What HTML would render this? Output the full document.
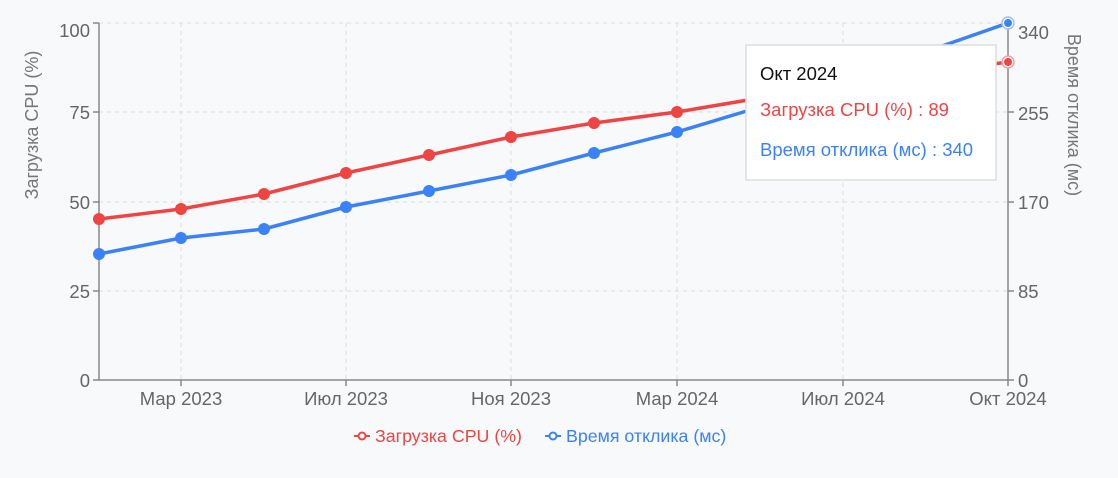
<!DOCTYPE html>
<html><head><meta charset="utf-8"><style>
body{margin:0;background:#f8f9fb;}
svg{display:block;font-family:"Liberation Sans","DejaVu Sans",sans-serif;}
</style></head><body>
<svg width="1118" height="478" viewBox="0 0 1118 478">
<rect width="1118" height="478" fill="#f8f9fb"/>
<g stroke="#dcdcdc" stroke-dasharray="4,4" stroke-width="1">
<line x1="99" y1="23" x2="1008" y2="23"/>
<line x1="99" y1="112" x2="1008" y2="112"/>
<line x1="99" y1="202" x2="1008" y2="202"/>
<line x1="99" y1="291" x2="1008" y2="291"/>
<line x1="181" y1="23" x2="181" y2="380"/>
<line x1="346" y1="23" x2="346" y2="380"/>
<line x1="511" y1="23" x2="511" y2="380"/>
<line x1="677" y1="23" x2="677" y2="380"/>
<line x1="843" y1="23" x2="843" y2="380"/>
</g>
<g stroke="#888" stroke-width="1.5" fill="none">
<line x1="99" y1="23" x2="99" y2="380"/>
<line x1="1008" y1="23" x2="1008" y2="380"/>
<line x1="99" y1="380" x2="1008" y2="380"/>
<line x1="93" y1="23" x2="99" y2="23"/><line x1="93" y1="112" x2="99" y2="112"/><line x1="93" y1="202" x2="99" y2="202"/><line x1="93" y1="291" x2="99" y2="291"/><line x1="93" y1="380" x2="99" y2="380"/>
<line x1="1008" y1="23" x2="1014" y2="23"/><line x1="1008" y1="112" x2="1014" y2="112"/><line x1="1008" y1="202" x2="1014" y2="202"/><line x1="1008" y1="291" x2="1014" y2="291"/><line x1="1008" y1="380" x2="1014" y2="380"/>
<line x1="181" y1="380" x2="181" y2="386"/><line x1="346" y1="380" x2="346" y2="386"/><line x1="511" y1="380" x2="511" y2="386"/><line x1="677" y1="380" x2="677" y2="386"/><line x1="843" y1="380" x2="843" y2="386"/><line x1="1008" y1="380" x2="1008" y2="386"/>
</g>
<g fill="#666" font-size="18.5" text-anchor="end">
<text x="90" y="37">100</text><text x="90" y="119">75</text><text x="90" y="209">50</text><text x="90" y="298">25</text><text x="90" y="387">0</text>
</g>
<g fill="#666" font-size="18.5" text-anchor="start">
<text x="1018" y="39">340</text><text x="1018" y="120">255</text><text x="1018" y="209">170</text><text x="1018" y="298">85</text><text x="1018" y="387">0</text>
</g>
<g fill="#666" font-size="18.5" text-anchor="middle">
<text x="181" y="405">Мар 2023</text><text x="346" y="405">Июл 2023</text><text x="511" y="405">Ноя 2023</text><text x="677" y="405">Мар 2024</text><text x="843" y="405">Июл 2024</text><text x="1008" y="405">Окт 2024</text>
</g>
<text transform="translate(38,125) rotate(-90)" fill="#777" font-size="18" text-anchor="middle">Загрузка CPU (%)</text>
<text transform="translate(1068,115) rotate(90)" fill="#777" font-size="18" text-anchor="middle">Время отклика (мс)</text>
<polyline fill="none" stroke="#ef4444" stroke-width="3.5" stroke-linejoin="round" points="99,219 181,209 264,194 346,173 429,155 511,137 594,123 677,112 760,98 843,84 925,73 1008,62"/>
<polyline fill="none" stroke="#3b82f6" stroke-width="3.5" stroke-linejoin="round" points="99,254 181,238 264,229 346,207 429,191 511,175 594,153 677,132 760,107 843,81 925,52 1008,23"/>
<g fill="#ef4444">
<circle cx="99" cy="219" r="6"/><circle cx="181" cy="209" r="6"/><circle cx="264" cy="194" r="6"/><circle cx="346" cy="173" r="6"/><circle cx="429" cy="155" r="6"/><circle cx="511" cy="137" r="6"/><circle cx="594" cy="123" r="6"/><circle cx="677" cy="112" r="6"/><circle cx="760" cy="98" r="6"/>
</g>
<g fill="#3b82f6">
<circle cx="99" cy="254" r="6"/><circle cx="181" cy="238" r="6"/><circle cx="264" cy="229" r="6"/><circle cx="346" cy="207" r="6"/><circle cx="429" cy="191" r="6"/><circle cx="511" cy="175" r="6"/><circle cx="594" cy="153" r="6"/><circle cx="677" cy="132" r="6"/><circle cx="760" cy="107" r="6"/>
</g>
<circle cx="1008" cy="62" r="6" fill="#fff" stroke="#f8a0a0" stroke-width="1.5"/><circle cx="1008" cy="62" r="4" fill="#ef4444"/>
<circle cx="1008" cy="23" r="6" fill="#fff" stroke="#9dbff8" stroke-width="1.5"/><circle cx="1008" cy="23" r="4" fill="#3b82f6"/>
<rect x="746" y="45" width="250" height="135" fill="#fff" stroke="#ddd" stroke-width="1.5"/>
<text x="760" y="80" font-size="18.5" fill="#111">Окт 2024</text>
<text x="760" y="116" font-size="18.5" fill="#ef4444">Загрузка CPU (%) : 89</text>
<text x="760" y="156" font-size="18.5" fill="#3b82f6">Время отклика (мс) : 340</text>
<g font-size="17.8">
<line x1="354" y1="436" x2="370" y2="436" stroke="#ef4444" stroke-width="2"/><circle cx="362" cy="436" r="3.5" fill="#fff" stroke="#ef4444" stroke-width="2"/>
<text x="375" y="442" fill="#ef4444">Загрузка CPU (%)</text>
<line x1="545" y1="436" x2="561" y2="436" stroke="#3b82f6" stroke-width="2"/><circle cx="553" cy="436" r="3.5" fill="#fff" stroke="#3b82f6" stroke-width="2"/>
<text x="566" y="442" fill="#3b82f6">Время отклика (мс)</text>
</g>
</svg>
</body></html>
